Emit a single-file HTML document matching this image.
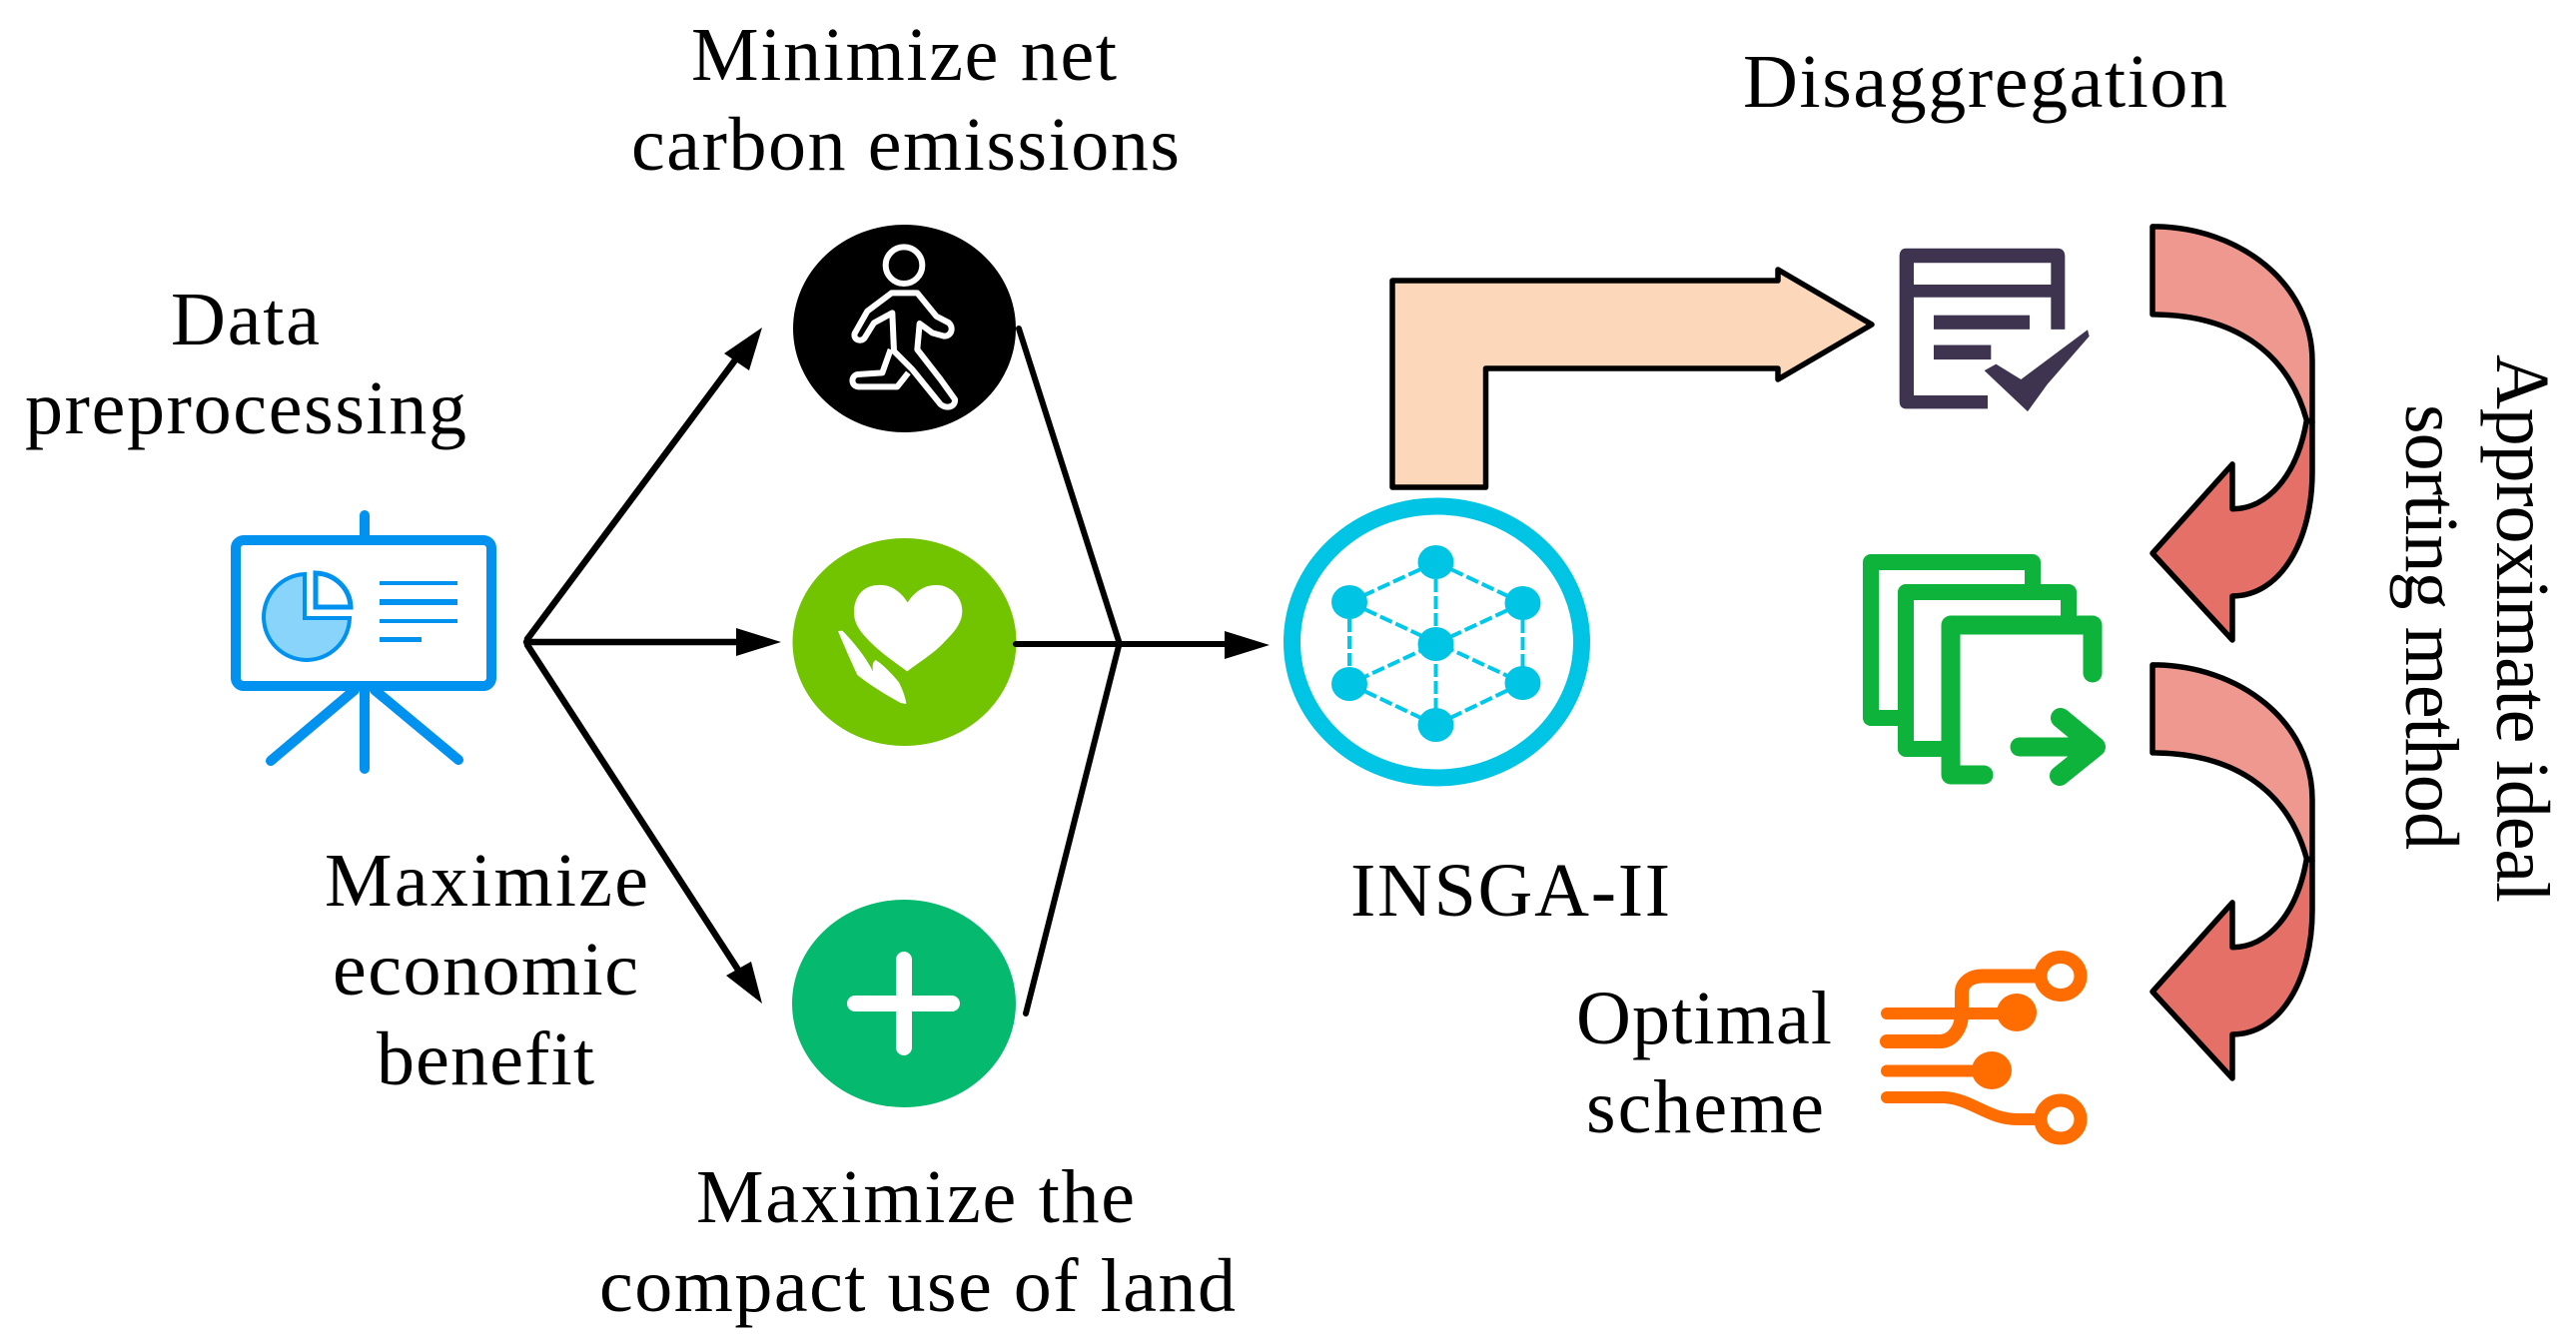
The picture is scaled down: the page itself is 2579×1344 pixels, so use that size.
<!DOCTYPE html>
<html>
<head>
<meta charset="utf-8">
<style>
html,body{margin:0;padding:0;background:#fff;width:2579px;height:1344px;overflow:hidden}
svg{display:block}
text{font-family:"Liberation Serif",serif;font-size:76px;fill:#000}
</style>
</head>
<body>
<svg width="2579" height="1344" viewBox="0 0 2579 1344" xmlns="http://www.w3.org/2000/svg">
<rect width="2579" height="1344" fill="#fff"/>

<!-- Text -->
<text x="692" y="80" textLength="426" lengthAdjust="spacing">Minimize net</text>
<text x="632" y="170" textLength="549" lengthAdjust="spacing">carbon emissions</text>
<text x="1745" y="107" textLength="485" lengthAdjust="spacing">Disaggregation</text>
<text x="171" y="345" textLength="149" lengthAdjust="spacing">Data</text>
<text x="25" y="434" textLength="442" lengthAdjust="spacing">preprocessing</text>
<text x="325" y="907" textLength="324" lengthAdjust="spacing">Maximize</text>
<text x="333" y="996" textLength="306" lengthAdjust="spacing">economic</text>
<text x="377" y="1086" textLength="218" lengthAdjust="spacing">benefit</text>
<text x="697" y="1224" textLength="439" lengthAdjust="spacing">Maximize the</text>
<text x="600" y="1313" textLength="637" lengthAdjust="spacing">compact use of land</text>
<text x="1352" y="917" textLength="320" lengthAdjust="spacing">INSGA-II</text>
<text x="1578" y="1045" textLength="256" lengthAdjust="spacing">Optimal</text>
<text x="1588" y="1134" textLength="238" lengthAdjust="spacing">scheme</text>
<text transform="translate(2500,355) rotate(90)" x="0" y="0" textLength="549" lengthAdjust="spacing">Approximate ideal</text>
<text transform="translate(2409,405) rotate(90)" x="0" y="0" textLength="446" lengthAdjust="spacing">sorting method</text>

<!-- Presentation board -->
<g fill="none" stroke="#0092ee" stroke-linecap="round">
  <rect x="236" y="541" width="256" height="146" rx="8" ry="8" stroke-width="10"/>
  <line x1="365" y1="516" x2="365" y2="537" stroke-width="10"/>
  <line x1="365" y1="691" x2="365" y2="770" stroke-width="10"/>
  <line x1="355" y1="691" x2="271" y2="762" stroke-width="10"/>
  <line x1="375" y1="691" x2="459" y2="761" stroke-width="10"/>
</g>
<path d="M305,575 A43,43 0 1 0 350,619 H305 Z" fill="#88d4fb" stroke="#0092ee" stroke-width="4"/>
<path d="M316,574 A36,35 0 0 1 351,608 H316 Z" fill="#fff" stroke="#0092ee" stroke-width="5"/>
<g fill="#0092ee">
  <rect x="380" y="582" width="78" height="4"/>
  <rect x="380" y="600" width="78" height="6"/>
  <rect x="380" y="620" width="78" height="4"/>
  <rect x="380" y="638" width="42" height="5"/>
</g>

<!-- Arrows from board -->
<g fill="none" stroke="#000" stroke-width="6.5" stroke-linecap="round" stroke-linejoin="round">
  <path d="M738,358 L528,640"/>
  <line x1="527" y1="643" x2="740" y2="643"/>
  <path d="M746,982 L528,646"/>
</g>
<g fill="#000">
  <polygon points="763,328 750,371 725,354"/>
  <polygon points="782,643 737,629 737,657"/>
  <polygon points="763,1005 727,977 752,963"/>
</g>

<!-- Black circle + walker -->
<ellipse cx="905.5" cy="329" rx="111.5" ry="104" fill="#000"/>
<g transform="translate(700,200) scale(0.33333)" fill="none" stroke="#fff" stroke-width="18" stroke-linejoin="round">
  <circle cx="615" cy="197" r="55"/>
  <path d="M578,280 H655 L712,350 L750,370 C765,385 758,410 735,410 L700,400 L662,372 L655,450 L725,540 L768,600 C770,622 745,630 725,615 L640,510 L585,455 L580,340 L525,370 L497,415 C485,430 462,420 467,402 L505,335 Z"/>
  <path d="M575,450 L550,520 L475,525 C455,530 455,560 478,562 L595,562 L628,520"/>
</g>

<!-- Green heart circle -->
<ellipse cx="905.5" cy="643" rx="112" ry="104" fill="#72c300"/>
<g transform="translate(800,540) scale(0.33333)" fill="#fff">
  <path d="M326,190 C300,150 270,135 235,138 C190,140 165,175 165,220 C165,255 185,280 215,310 C250,345 295,375 325,397 C360,370 410,340 440,305 C470,275 490,250 490,215 C490,170 450,135 410,138 C375,138 345,160 326,190 Z"/>
  <path d="M117,276 L130,275 C155,300 195,345 222,397 C220,380 220,370 230,363 C250,375 280,405 300,430 C310,450 320,475 322,495 L305,492 C265,470 215,440 175,408 C155,365 135,320 117,276 Z"/>
</g>

<!-- Green plus circle -->
<ellipse cx="905" cy="1005" rx="112" ry="104" fill="#05b96e"/>
<g stroke="#fff" stroke-width="16" stroke-linecap="round">
  <line x1="856" y1="1005" x2="953" y2="1005"/>
  <line x1="905" y1="961" x2="905" y2="1049"/>
</g>

<!-- Merge lines -->
<g fill="none" stroke="#000" stroke-width="6" stroke-linecap="round" stroke-linejoin="round">
  <line x1="1020" y1="329" x2="1120" y2="642"/>
  <line x1="1027" y1="1015" x2="1120" y2="647"/>
  <line x1="1017" y1="645" x2="1230" y2="645"/>
</g>
<polygon points="1271,646 1226,632 1226,660" fill="#000"/>

<!-- INSGA ring -->
<ellipse cx="1438.5" cy="643" rx="145" ry="136" fill="none" stroke="#00c4e4" stroke-width="17"/>
<g stroke="#00c8e8" stroke-width="4" stroke-dasharray="13 4" fill="none">
  <line x1="1437.5" y1="563" x2="1351" y2="603"/>
  <line x1="1437.5" y1="563" x2="1524.5" y2="604"/>
  <line x1="1437.5" y1="563" x2="1437.5" y2="726"/>
  <line x1="1351" y1="603" x2="1524.5" y2="684"/>
  <line x1="1524.5" y1="604" x2="1351" y2="685"/>
  <line x1="1351" y1="603" x2="1351" y2="685"/>
  <line x1="1524.5" y1="604" x2="1524.5" y2="684"/>
  <line x1="1351" y1="685" x2="1437.5" y2="726"/>
  <line x1="1524.5" y1="684" x2="1437.5" y2="726"/>
</g>
<g fill="#00c4e4">
  <ellipse cx="1437.5" cy="645" rx="18" ry="17"/>
  <ellipse cx="1437.5" cy="563" rx="18" ry="17"/>
  <ellipse cx="1351" cy="603" rx="18" ry="17"/>
  <ellipse cx="1524.5" cy="604" rx="18" ry="17"/>
  <ellipse cx="1351" cy="685" rx="18" ry="17"/>
  <ellipse cx="1524.5" cy="684" rx="18" ry="17"/>
  <ellipse cx="1437.5" cy="726" rx="18" ry="17"/>
</g>

<!-- Bent arrow -->
<polygon points="1394,281 1780,281 1780,270 1874,325 1780,380 1780,369 1487.5,369 1487.5,488 1394,488" fill="#fdd7ba" stroke="#000" stroke-width="5.5" stroke-linejoin="round"/>

<!-- Document icon -->
<g transform="translate(1850,220) scale(0.33333,0.38270)" fill="#3e3450">
  <path fill-rule="evenodd" d="M175,75 H630 Q652,75 652,97 V287 H610 V203 H198 V460 H420 V495 H175 Q155,495 155,475 V97 Q155,75 175,75 Z M198,113 V170 H610 V113 Z"/>
  <rect x="258" y="250" width="288" height="37"/>
  <rect x="258" y="328" width="172" height="38"/>
  <polygon points="410,395 445,378 520,418 720,288 725,305 600,430 540,502"/>
</g>

<!-- Curved arrows -->
<g transform="translate(1850,220) scale(0.33333,0.38270)" stroke="#000" stroke-width="5.5" stroke-linejoin="round">
  <path vector-effect="non-scaling-stroke" fill="#ee9890" d="M915,18 C1180,18 1395,170 1395,370 L1395,530 L1378,525 C1320,340 1150,248 915,248 Z"/>
  <path vector-effect="non-scaling-stroke" fill="#e57068" d="M1395,530 L1395,660 C1395,840 1300,985 1155,985 V1100 L915,873 L1155,640 V757 C1260,757 1350,670 1378,525 Z"/>
</g>
<g transform="translate(1850,659) scale(0.33333,0.38270)" stroke="#000" stroke-width="5.5" stroke-linejoin="round">
  <path vector-effect="non-scaling-stroke" fill="#ee9890" d="M915,18 C1180,18 1395,170 1395,370 L1395,530 L1378,525 C1320,340 1150,248 915,248 Z"/>
  <path vector-effect="non-scaling-stroke" fill="#e57068" d="M1395,530 L1395,660 C1395,840 1300,985 1155,985 V1100 L915,873 L1155,640 V757 C1260,757 1350,670 1378,525 Z"/>
</g>

<!-- Green stacked sheets icon -->
<g fill="none" stroke="#0db33a" stroke-width="16" stroke-linecap="round" stroke-linejoin="round">
  <path d="M2035,593 V563 H1873 V719 H1908"/>
  <path d="M2071,626 V593 H1908 V750 H1953"/>
</g>
<g fill="none" stroke="#0db33a" stroke-linecap="round" stroke-linejoin="round">
  <path d="M2095,674 V626 H1953 V776 H1986" stroke-width="19"/>
  <path d="M2022,748 H2092" stroke-width="19"/>
  <path d="M2063,719 L2098,748 L2062,777" stroke-width="20"/>
</g>

<!-- Orange circuit icon -->
<g fill="none" stroke="#ff6d00" stroke-linecap="round" stroke-width="12">
  <line x1="1889" y1="1015" x2="2010" y2="1015"/>
  <path d="M1889,1043 H1942 C1955,1043 1964,1030 1964,1015 V994 C1964,985 1972,977.5 1985,977.5 H2042" stroke-width="14"/>
  <line x1="1889" y1="1072.5" x2="1985" y2="1072.5"/>
  <path d="M1889,1099 H1947 C1975,1101 1990,1121 2020,1121 H2042"/>
  <ellipse cx="2063" cy="977.5" rx="20" ry="19" stroke-width="13"/>
  <ellipse cx="2063" cy="1121" rx="20" ry="19" stroke-width="13"/>
</g>
<g fill="#ff6d00">
  <ellipse cx="2019" cy="1014" rx="20" ry="19"/>
  <ellipse cx="1994" cy="1072" rx="20" ry="19"/>
</g>
</svg>
</body>
</html>
